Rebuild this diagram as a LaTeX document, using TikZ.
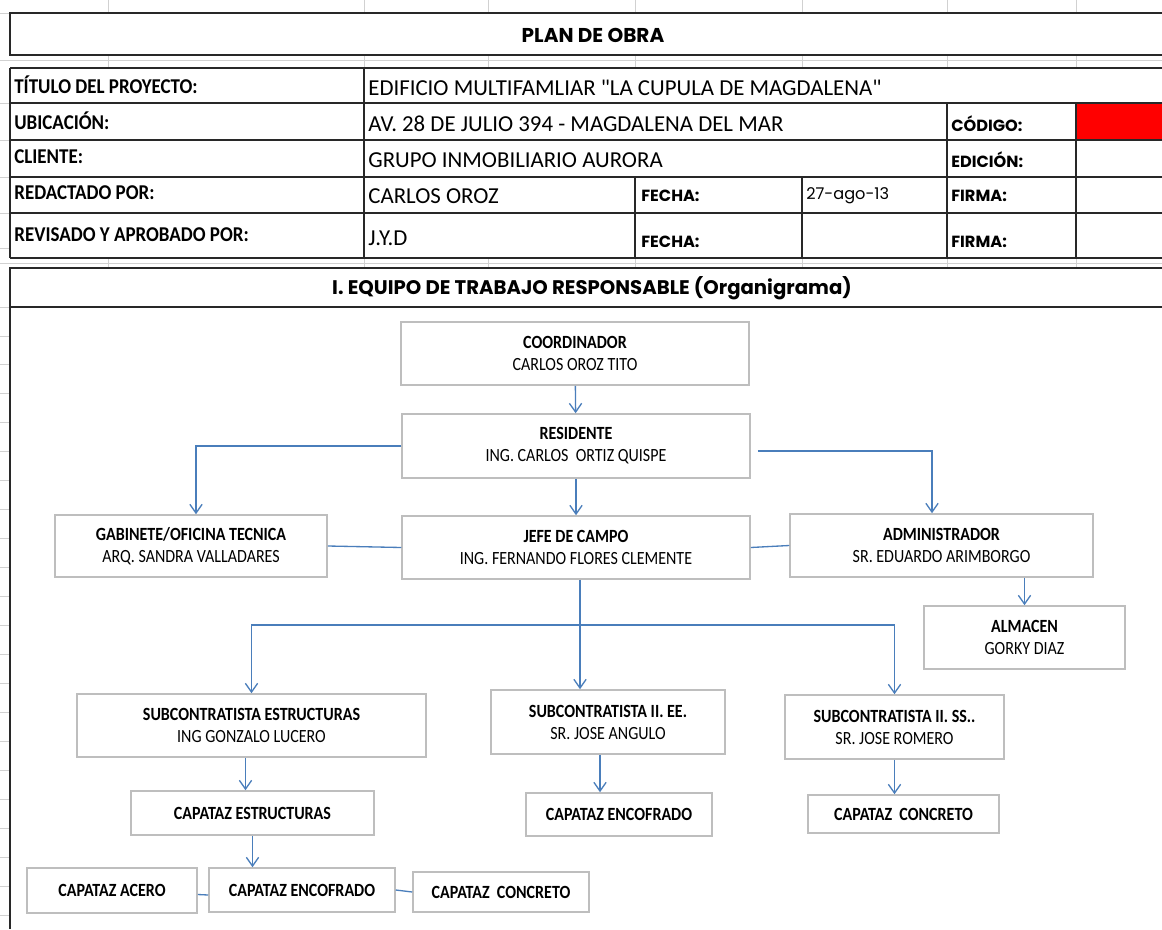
\documentclass[tikz,border=0pt]{standalone}
\usepackage{fontspec}
\setmainfont{Carlito}
\newfontfamily\narrowfont{Carlito}[FakeStretch=0.86]
\newfontfamily\labelfont{Carlito}[FakeStretch=0.9]
\newfontfamily\valuefont{Carlito}[Ligatures=TeXOff]
\newfontfamily\gothicfont{Poppins}
\usetikzlibrary{arrows.meta, positioning}

\definecolor{boxgray}{RGB}{190,190,190}
\definecolor{linkblue}{RGB}{74,126,187}
\definecolor{rulegray}{RGB}{40,40,40}

\tikzset{
	box/.style 2 args={draw=boxgray, line width=0.9pt, fill=white, align=center, minimum width=#1, minimum height=#2, inner sep=1pt, font=\narrowfont\fontsize{10.6}{12.5}\selectfont},
	link/.style={draw=linkblue, line width=0.75pt},
	arrowlink/.style={link, -{Straight Barb[length=5pt,width=7pt]}},
	sheetgrid/.style={draw=black!18, line width=0.5pt},
	tablerule/.style={draw=rulegray, line width=1.1pt},
	celllabel/.style={anchor=west, inner sep=0pt, font=\labelfont\bfseries\fontsize{12}{14}\selectfont},
	cellvalue/.style={anchor=west, inner sep=0pt, font=\valuefont\fontsize{13}{15}\selectfont},
	cellgothic/.style={anchor=west, inner sep=0pt, font=\gothicfont\bfseries\fontsize{9.2}{11}\selectfont}
}

\begin{document}
\begin{tikzpicture}[x=0.02cm, y=-0.02cm]
			\useasboundingbox[fill=white] (0,0) rectangle (1162,929);

			% Sheet grid
			\foreach \gx in {108,364,488,635,802,947,1076} {
				\draw[sheetgrid] (\gx,0) -- (\gx,13);
				\draw[sheetgrid] (\gx,55) -- (\gx,68);
				\draw[sheetgrid] (\gx,258) -- (\gx,268);
			}
			\foreach \gy in {60,263} \draw[sheetgrid] (0,\gy) -- (1162,\gy);
			\foreach \gy in {13,103,140,177,213,248} \draw[sheetgrid] (0,\gy) -- (10,\gy);
			\foreach \k in {0,...,21} \draw[sheetgrid] (0,{307+28.95*\k}) -- (10,{307+28.95*\k});

			% Header table
			\fill[red] (1076,103) rectangle (1162,140);
			\draw[tablerule] (1162,13) -- (10,13) -- (10,55) -- (1162,55);
			\foreach \ry in {68,103,140,177,213,258} \draw[tablerule] (10,\ry) -- (1162,\ry);
			\draw[tablerule] (10,68) -- (10,258);
			\draw[tablerule] (364,68) -- (364,258);
			\foreach \cx in {947,1076} \draw[tablerule] (\cx,103) -- (\cx,258);
			\foreach \cx in {635,802} \draw[tablerule] (\cx,177) -- (\cx,258);
			\draw[tablerule] (1162,268) -- (10,268) -- (10,929);
			\draw[tablerule] (10,307) -- (1162,307);

			\node (plan) at (593,35) {\gothicfont\bfseries\fontsize{11.4}{13}\selectfont PLAN DE OBRA};
			\node (titulo) [celllabel] at (14,85) {TÍTULO DEL PROYECTO:};
			\node (ubic) [celllabel] at (14,121) {UBICACIÓN:};
			\node (cliente) [celllabel] at (14,157) {CLIENTE:};
			\node (redact) [celllabel] at (14,193) {REDACTADO POR:};
			\node (revis) [celllabel] at (14,235) {REVISADO Y APROBADO POR:};
			\node (tituloval) [cellvalue] at (368,88) {EDIFICIO MULTIFAMLIAR "LA CUPULA DE MAGDALENA"};
			\node (ubicval) [cellvalue] at (368,124) {AV. 28 DE JULIO 394 - MAGDALENA DEL MAR};
			\node (clienteval) [cellvalue] at (368,160) {GRUPO INMOBILIARIO AURORA};
			\node (redactval) [cellvalue] at (368,196) {CARLOS OROZ};
			\node (revisval) [cellvalue] at (368,238) {J.Y.D};
			\node (fecha1) [cellgothic] at (641,196) {FECHA:};
			\node (fecha2) [cellgothic] at (641,242) {FECHA:};
			\node (fechaval) [cellgothic, font=\gothicfont\fontsize{9.2}{11}\selectfont] at (806,196) {27-ago-13};
			\node (codigo) [cellgothic] at (951,124) {CÓDIGO:};
			\node (edicion) [cellgothic] at (951,160) {EDICIÓN:};
			\node (firma1) [cellgothic] at (951,196) {FIRMA:};
			\node (firma2) [cellgothic] at (951,242) {FIRMA:};

			\node (equipo) at (592,288) {\gothicfont\bfseries\fontsize{11.2}{13}\selectfont I. EQUIPO DE TRABAJO RESPONSABLE (Organigrama)};

			% Nodes
			\node (coord) [box={6.96cm}{1.26cm}] at (575,353.5) {\textbf{COORDINADOR}\\CARLOS OROZ TITO};
			\node (res) [box={6.96cm}{1.28cm}] at (576,446) {\textbf{RESIDENTE}\\ING. CARLOS\ \ ORTIZ QUISPE};
			\node (gab) [box={5.44cm}{1.24cm}] at (191,546) {\textbf{GABINETE/OFICINA TECNICA}\\ARQ. SANDRA VALLADARES};
			\node (jefe) [box={6.96cm}{1.26cm}] at (576,547.5) {\textbf{JEFE DE CAMPO}\\ING. FERNANDO FLORES CLEMENTE};
			\node (adm) [box={6.06cm}{1.26cm}] at (941.5,545.5) {\textbf{ADMINISTRADOR}\\SR. EDUARDO ARIMBORGO};
			\node (alm) [box={4.02cm}{1.26cm}] at (1024.5,637.5) {\textbf{ALMACEN}\\GORKY DIAZ};
			\node (subest) [box={6.98cm}{1.26cm}] at (251.5,725.5) {\textbf{SUBCONTRATISTA ESTRUCTURAS}\\ING GONZALO LUCERO};
			\node (subee) [box={4.68cm}{1.28cm}] at (608,722) {\textbf{SUBCONTRATISTA II. EE.}\\SR. JOSE ANGULO};
			\node (subss) [box={4.38cm}{1.28cm}] at (894.5,727) {\textbf{SUBCONTRATISTA II. SS..}\\SR. JOSE ROMERO};
			\node (capest) [box={4.86cm}{0.88cm}] at (252.5,813) {\textbf{CAPATAZ ESTRUCTURAS}};
			\node (capenc) [box={3.72cm}{0.86cm}] at (619,814.5) {\textbf{CAPATAZ ENCOFRADO}};
			\node (capcon) [box={3.82cm}{0.76cm}] at (903.5,814) {\textbf{CAPATAZ\ \ CONCRETO}};
			\node (capace) [box={3.4cm}{0.9cm}] at (112,890.5) {\textbf{CAPATAZ ACERO}};
			\node (capencb) [box={3.72cm}{0.88cm}] at (302,890) {\textbf{CAPATAZ ENCOFRADO}};
			\node (capconb) [box={3.52cm}{0.8cm}] at (501,892) {\textbf{CAPATAZ\ \ CONCRETO}};
			\coordinate (bus) at (580,625);

			% Edges
			\draw[arrowlink] (coord) -- (res);
			\draw[arrowlink] (res.west) -| ([xshift=0.1cm]gab.north);
			\draw[arrowlink] ([xshift=0.14cm,yshift=-0.1cm]res.east) -| ([xshift=-0.19cm]adm.north);
			\draw[arrowlink] (res) -- (jefe);
			\draw[link] (gab.east) -- (jefe.west);
			\draw[link] (jefe.east) -- (adm.west);
			\draw[arrowlink] (alm.north |- adm.south) -- (alm.north);
			\draw[arrowlink] ([xshift=0.08cm]jefe.south) -- ([xshift=0.08cm]jefe.south |- subee.north);
			\draw[arrowlink] (bus) -| (subest.north);
			\draw[arrowlink] (bus) -| (subss.north);
			\draw[arrowlink] ([xshift=-0.12cm]subest.south) -- ([xshift=-0.12cm]subest.south |- capest.north);
			\draw[arrowlink] ([xshift=-0.16cm]subee.south) -- ([xshift=-0.16cm]subee.south |- capenc.north);
			\draw[arrowlink] (subss.south) -- (subss.south |- capcon.north);
			\draw[arrowlink] (capest.south) -- (capest.south |- capencb.north);
			\draw[link] ([yshift=-0.08cm]capace.east) -- ([yshift=-0.1cm]capencb.west);
			\draw[link] (capencb.east) -- (capconb.west);

		\end{tikzpicture}
\end{document}
